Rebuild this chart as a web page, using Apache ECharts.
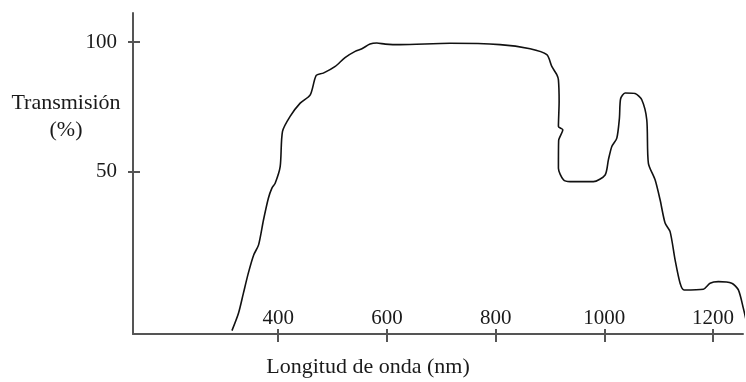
<!DOCTYPE html>
<html>
<head>
<meta charset="utf-8">
<script src="https://cdn.jsdelivr.net/npm/echarts@6/dist/echarts.min.js"></script>
<style>
  html, body { margin: 0; padding: 0; background: #fff; }
  #myChart { width: 746px; height: 382px; }
</style>
</head>
<body>
<div id="myChart"></div>
<script>
// curve (nm, %)
var wavelength = [315, 327, 336, 345, 355, 364, 373, 382, 388.5, 394.5, 403.7, 408, 422, 440.5, 459, 470, 483, 505, 523, 541.6, 554, 569, 581.5, 597, 624, 716, 808, 863.4, 894.2, 903.3, 912.5, 915.5, 916.8, 915.5, 923.6, 915.9, 915.5, 924.7, 937, 979.8, 1001.4, 1007.4, 1013.7, 1022.9, 1027.7, 1029.9, 1038.1, 1056.5, 1068.8, 1078, 1081, 1093.3, 1102.5, 1111.7, 1120.9, 1130.1, 1139.3, 1146.6, 1182.1, 1194.4, 1209.7, 1234.3, 1246.5, 1255.7, 1260.6];
var transmission = [-11.4, -4.7, 3.0, 10.7, 17.8, 21.7, 31.3, 39.7, 43.6, 45.5, 51.9, 65.5, 71.3, 76.4, 79.6, 87.1, 88.0, 90.6, 94.0, 96.4, 97.4, 99.2, 99.6, 99.2, 99.0, 99.5, 99.0, 97.4, 95.1, 90.6, 87.4, 85.4, 77.0, 67.4, 66.1, 61.9, 51.3, 46.8, 46.1, 46.1, 48.7, 54.5, 59.7, 62.9, 70.6, 78.1, 80.3, 80.1, 77.7, 70.0, 53.2, 46.8, 39.1, 30.1, 26.8, 15.9, 6.9, 4.3, 4.6, 6.9, 7.5, 6.9, 4.3, -2.8, -7.3];

var xTicks = [400, 600, 800, 1000, 1200];
var yTicks = [50, 100];

var xRange = [133, 1255];
var yRange = [-12.7, 111.2];

var font = '"Liberation Serif", "DejaVu Serif", serif';
var axisColor = '#555';
var textColor = '#1a1a1a';

var points = wavelength.map(function (w, i) {
    return [w, transmission[i]];
});

var chart = echarts.init(document.getElementById('myChart'), null, {renderer: 'canvas'});

chart.setOption({
    animation: false,
    grid: {
        left: 133,
        right: 3,
        top: 13,
        bottom: 48
    },
    xAxis: [
        {
            type: 'value',
            min: xRange[0],
            max: xRange[1],
            position: 'bottom',
            splitLine: {show: false},
            axisLine: {show: true, onZero: false, lineStyle: {color: axisColor, width: 2}},
            axisTick: {show: true, inside: false, length: 8, customValues: xTicks, lineStyle: {color: axisColor, width: 2}},
            axisLabel: {
                inside: true,
                margin: 5,
                customValues: xTicks,
                formatter: function (v) { return String(v); },
                color: textColor,
                fontFamily: font,
                fontSize: 21
            }
        },
        {
            type: 'value',
            min: xRange[0],
            max: xRange[1],
            position: 'bottom',
            splitLine: {show: false},
            axisLine: {show: false, onZero: false},
            axisTick: {show: true, inside: true, length: 5, customValues: xTicks, lineStyle: {color: axisColor, width: 2}},
            axisLabel: {show: false}
        }
    ],
    yAxis: [
        {
            type: 'value',
            min: yRange[0],
            max: yRange[1],
            position: 'left',
            splitLine: {show: false},
            axisLine: {show: true, onZero: false, lineStyle: {color: axisColor, width: 2}},
            axisTick: {show: true, inside: false, length: 5, customValues: yTicks, lineStyle: {color: axisColor, width: 2}},
            axisLabel: {
                margin: 16,
                customValues: yTicks,
                formatter: function (v) { return String(v); },
                color: textColor,
                fontFamily: font,
                fontSize: 21
            }
        },
        {
            type: 'value',
            min: yRange[0],
            max: yRange[1],
            position: 'left',
            offset: 0,
            splitLine: {show: false},
            axisLine: {show: false, onZero: false},
            axisTick: {show: true, inside: true, length: 7, customValues: yTicks, lineStyle: {color: axisColor, width: 2}},
            axisLabel: {show: false}
        }
    ],
    graphic: [
        {
            type: 'text',
            x: 66,
            y: 90,
            style: {
                text: 'Transmisión\n(%)',
                fill: textColor,
                font: '22px ' + font,
                align: 'center',
                verticalAlign: 'top',
                lineHeight: 27
            }
        },
        {
            type: 'text',
            x: 368,
            y: 356,
            style: {
                text: 'Longitud de onda (nm)',
                fill: textColor,
                font: '22px ' + font,
                align: 'center',
                verticalAlign: 'top'
            }
        }
    ],
    series: [
        {
            name: 'Transmisión',
            type: 'line',
            xAxisIndex: 0,
            yAxisIndex: 0,
            data: points,
            symbol: 'none',
            smooth: 0.25,
            clip: true,
            lineStyle: {color: '#111', width: 1.6}
        }
    ]
});
</script>
</body>
</html>
